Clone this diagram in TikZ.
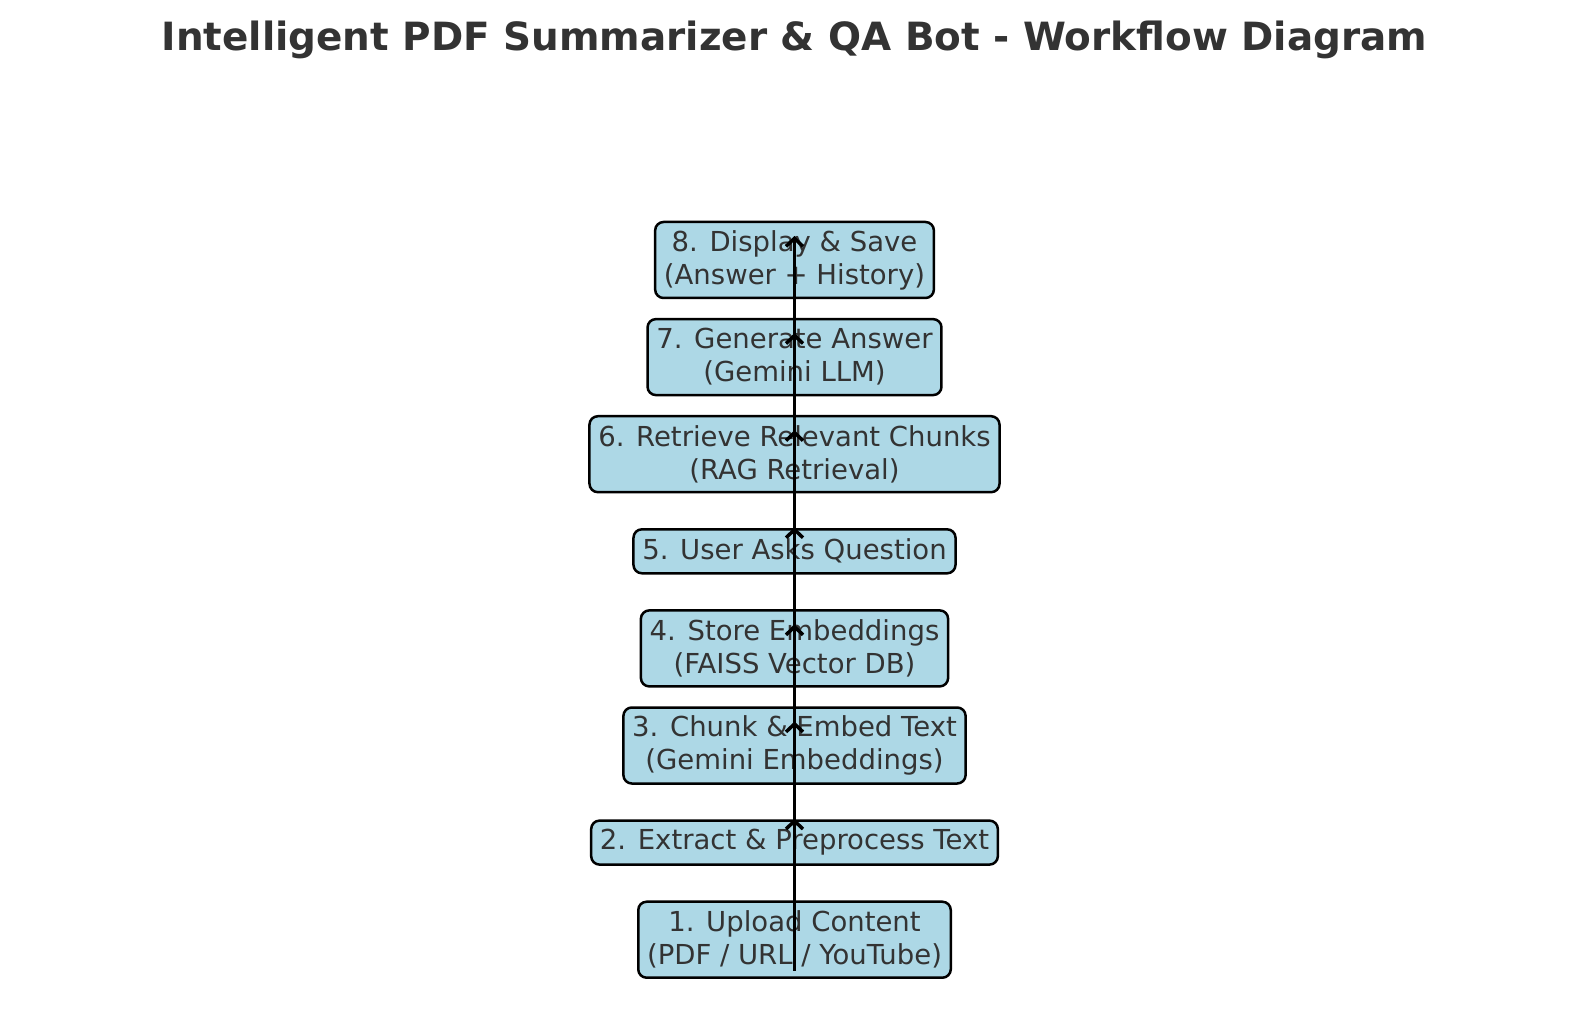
\documentclass[tikz,border=0pt]{standalone}
\usepackage{fontspec}
\setmainfont{DejaVu Sans}
\usetikzlibrary{arrows.meta,positioning}
\definecolor{boxblue}{HTML}{ADD8E6}
\definecolor{txtgray}{HTML}{333333}

\begin{document}
\begin{tikzpicture}[
  x=0.5pt, y=-0.5pt,
  >={Straight Barb[length=4pt,width=8.5pt]},
  stepbox/.style={draw=black, fill=boxblue, line width=1.25pt, rounded corners=4.2pt,
    align=center, inner xsep=4.4pt, inner ysep=2pt, text=txtgray,
    font=\fontsize{13.75pt}{16.5pt}\selectfont},
  onebox/.style={stepbox, minimum height=22pt},
  twobox/.style={stepbox, minimum height=38pt},
  flow/.style={->, line width=1.75pt}
]
\useasboundingbox (0,0) rectangle (1589,1010);

% --- layout (pixel grid)
\def\xC{794.5}
\def\yTop{260}
\def\dy{97.1}

% --- title
\node[text=txtgray, font=\bfseries\fontsize{19.45pt}{23pt}\selectfont] (title) at (\xC,40)
  {Intelligent PDF Summarizer \& QA Bot - Workflow Diagram};

% --- the eight steps, bottom to top
\node[twobox] (s1) at (\xC,\yTop+7*\dy) {1. Upload Content\\(PDF / URL / YouTube)};
\node[onebox] (s2) at (\xC,\yTop+6*\dy) {2. Extract \& Preprocess Text};
\node[twobox] (s3) at (\xC,\yTop+5*\dy) {3. Chunk \& Embed Text\\(Gemini Embeddings)};
\node[twobox] (s4) at (\xC,\yTop+4*\dy) {4. Store Embeddings\\(FAISS Vector DB)};
\node[onebox] (s5) at (\xC,\yTop+3*\dy) {5. User Asks Question};
\node[twobox] (s6) at (\xC,\yTop+2*\dy) {6. Retrieve Relevant Chunks\\(RAG Retrieval)};
\node[twobox] (s7) at (\xC,\yTop+1*\dy) {7. Generate Answer\\(Gemini LLM)};
\node[twobox] (s8) at (\xC,\yTop) {8. Display \& Save\\(Answer + History)};

% --- arrows between consecutive steps
\foreach \i [evaluate=\i as \j using int(\i+1)] in {1,...,7}
  \draw[flow] ([yshift=-15.5pt]s\i.center) -- ([yshift=12pt]s\j.center);

\end{tikzpicture}
\end{document}
